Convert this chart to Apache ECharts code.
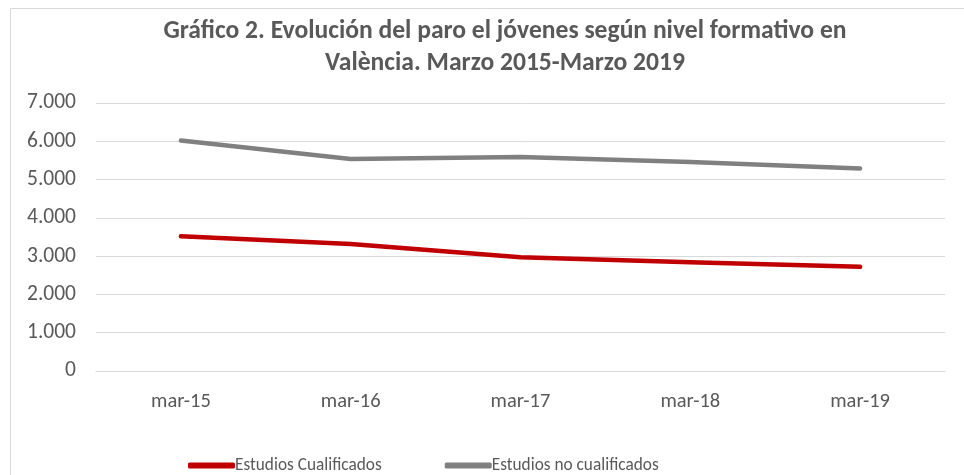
<!DOCTYPE html>
<html>
<head>
<meta charset="utf-8">
<script src="https://cdn.jsdelivr.net/npm/echarts@6/dist/echarts.min.js"></script>
<style>
  html, body { margin: 0; padding: 0; background: #fff; }
  #chart { width: 964px; height: 475px; }
</style>
</head>
<body>
<div id="chart"></div>
<script>
const categories = ['mar-15', 'mar-16', 'mar-17', 'mar-18', 'mar-19'];
const cualificados = [3520, 3320, 2970, 2840, 2720];
const noCualificados = [6020, 5540, 5590, 5460, 5290];
const yTicks = [0, 1000, 2000, 3000, 4000, 5000, 6000, 7000];

const fontFamily = 'Carlito, Calibri, "Open Sans", sans-serif';
const textColor = '#595959';

const myChart = echarts.init(document.getElementById('chart'));

const option = {
  animation: false,
  graphic: [
    {
      type: 'rect',
      shape: { x: 10.5, y: 8.5, width: 1000, height: 600 },
      style: { fill: 'none', stroke: '#d9d9d9', lineWidth: 1 },
      silent: true
    }
  ],
  title: {
    text: 'Gráfico 2. Evolución del paro el jóvenes según nivel formativo en\nValència. Marzo 2015-Marzo 2019',
    left: 500,
    top: 11,
    textAlign: 'center',
    textStyle: {
      fontFamily: fontFamily,
      fontSize: 25.6,
      fontWeight: 'bold',
      color: textColor,
      lineHeight: 32
    }
  },
  legend: {
    top: 452,
    left: 183,
    itemWidth: 47,
    itemHeight: 6,
    itemGap: 63,
    icon: 'roundRect',
    textStyle: { fontFamily: fontFamily, fontSize: 17.3, color: textColor, padding: [0, 0, 0, -5] },
    data: ['Estudios Cualificados', 'Estudios no cualificados']
  },
  grid: {
    left: 96,
    right: 19,
    top: 103,
    bottom: 104
  },
  xAxis: {
    type: 'category',
    data: categories,
    axisLine: { lineStyle: { color: '#d9d9d9', width: 1 } },
    axisTick: { show: false },
    axisLabel: { fontFamily: fontFamily, fontSize: 20.5, color: textColor, margin: 20 }
  },
  yAxis: {
    type: 'value',
    min: yTicks[0],
    max: yTicks[yTicks.length - 1],
    interval: 1000,
    axisLine: { show: false },
    axisTick: { show: false },
    splitLine: { lineStyle: { color: '#d9d9d9', width: 1 } },
    axisLabel: {
      fontFamily: fontFamily,
      fontSize: 21.5,
      color: textColor,
      margin: 20,
      formatter: v => v.toLocaleString('de-DE')
    }
  },
  series: [
    {
      name: 'Estudios Cualificados',
      type: 'line',
      data: cualificados,
      showSymbol: false,
      symbol: 'none',
      lineStyle: { width: 4.5, color: '#c00000', cap: 'round', join: 'round' },
      itemStyle: { color: '#c00000' }
    },
    {
      name: 'Estudios no cualificados',
      type: 'line',
      data: noCualificados,
      showSymbol: false,
      symbol: 'none',
      lineStyle: { width: 4.5, color: '#808080', cap: 'round', join: 'round' },
      itemStyle: { color: '#808080' }
    }
  ]
};

myChart.setOption(option);
</script>
</body>
</html>
